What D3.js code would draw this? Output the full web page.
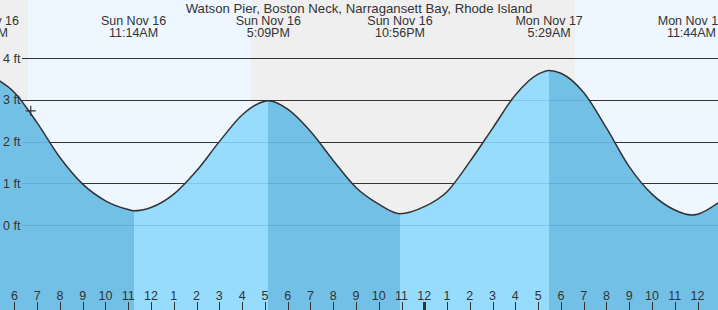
<!DOCTYPE html>
<html>
<head>
<meta charset="utf-8">
<script src="https://cdn.jsdelivr.net/npm/d3@7"></script>
<style>
  body { margin: 0; background: #fff; }
  svg { display: block; font-family: "Liberation Sans", Arial, sans-serif; }
</style>
</head>
<body>
<svg id="chart" width="718" height="310"></svg>
<script>
// tide chart data
var title = "Watson Pier, Boston Neck, Narragansett Bay, Rhode Island";

// high / low tide events
var eventTimes = ["2025-11-16 04:46", "2025-11-16 11:14", "2025-11-16 17:09",
                  "2025-11-16 22:56", "2025-11-17 05:29", "2025-11-17 11:44"];
var eventHeights = [3.59, 0.34, 2.98, 0.27, 3.71, 0.24];

// hourly readings along the tide curve (ft), plus the turning points
var curveTimes = ["2025-11-16 05:00", "2025-11-16 06:00", "2025-11-16 07:00", "2025-11-16 08:00",
                  "2025-11-16 09:00", "2025-11-16 10:00", "2025-11-16 11:00", "2025-11-16 11:14",
                  "2025-11-16 12:00", "2025-11-16 13:00", "2025-11-16 14:00", "2025-11-16 15:00",
                  "2025-11-16 16:00", "2025-11-16 17:00", "2025-11-16 17:09", "2025-11-16 18:00",
                  "2025-11-16 19:00", "2025-11-16 20:00", "2025-11-16 21:00", "2025-11-16 22:00",
                  "2025-11-16 22:56", "2025-11-17 00:00", "2025-11-17 01:00", "2025-11-17 02:00",
                  "2025-11-17 03:00", "2025-11-17 04:00", "2025-11-17 05:00", "2025-11-17 05:29",
                  "2025-11-17 06:00", "2025-11-17 07:00", "2025-11-17 08:00", "2025-11-17 09:00",
                  "2025-11-17 10:00", "2025-11-17 11:00", "2025-11-17 11:44", "2025-11-17 12:00",
                  "2025-11-17 13:00"];
var curveHeights = [3.57, 3.18, 2.45, 1.62,
                    0.98, 0.58, 0.37, 0.34,
                    0.42, 0.74, 1.30, 2.00,
                    2.64, 2.97, 2.98, 2.78,
                    2.25, 1.55, 0.90, 0.50,
                    0.27, 0.44, 0.80, 1.52,
                    2.32, 3.12, 3.62, 3.71,
                    3.64, 3.18, 2.33, 1.40,
                    0.74, 0.36, 0.24, 0.26,
                    0.57];

// sunrise / sunset
var sunTimes = ["2025-11-16 06:36", "2025-11-16 16:23", "2025-11-17 06:37"];

var yTicks = [0, 1, 2, 3, 4];
var viewStart = "2025-11-16 05:22";
var viewEnd = "2025-11-17 12:54";
var nowTime = "2025-11-16 06:43";
var nowHeight = 2.74;

var width = 718, height = 310;
var parse = d3.timeParse("%Y-%m-%d %H:%M");
var t0 = parse(viewStart), t1 = parse(viewEnd);

var x = d3.scaleTime().domain([t0, t1]).range([0, width]);
var y = d3.scaleLinear().domain([0, 4]).range([225, 58.3]);

var svg = d3.select("#chart");

var curve = curveTimes.map(function (t, i) { return { t: parse(t), v: curveHeights[i] }; });
var events = eventTimes.map(function (t, i) { return { t: parse(t), v: eventHeights[i] }; });

// day / night background
var edges = [t0].concat(sunTimes.map(parse), [t1]);
for (var i = 0; i < edges.length - 1; i++) {
  svg.append("rect")
    .attr("x", Math.round(x(edges[i])))
    .attr("y", 0)
    .attr("width", Math.round(x(edges[i + 1])) - Math.round(x(edges[i])))
    .attr("height", height)
    .attr("fill", i % 2 == 0 ? "#efefef" : "#eef7ff");
}

// grid lines
svg.append("g").selectAll("line")
  .data(yTicks)
  .join("line")
  .attr("x1", 22).attr("x2", width)
  .attr("y1", d => Math.round(y(d)) + 0.5).attr("y2", d => Math.round(y(d)) + 0.5)
  .attr("stroke", "#333").attr("stroke-width", 1);

// water
var area = d3.area()
  .x(d => x(d.t))
  .y0(height)
  .y1(d => y(d.v))
  .curve(d3.curveMonotoneX);

var line = d3.line()
  .x(d => x(d.t))
  .y(d => y(d.v))
  .curve(d3.curveMonotoneX);

svg.append("clipPath").attr("id", "water")
  .append("path").attr("d", area(curve));

var wg = svg.append("g").attr("clip-path", "url(#water)");
var bounds = [t0].concat(events.map(d => d.t).filter(t => t > t0 && t < t1), [t1]);
for (var j = 0; j < bounds.length - 1; j++) {
  var mid = new Date((bounds[j].getTime() + bounds[j + 1].getTime()) / 2);
  var prev = events.filter(e => e.t <= bounds[j]).pop() || events[0];
  var next = events.find(e => e.t > mid);
  var falling = next ? next.v < prev.v : true;
  var xa = Math.round(x(bounds[j])), xb = Math.round(x(bounds[j + 1]));
  wg.append("rect")
    .attr("x", xa)
    .attr("y", 0)
    .attr("width", xb - xa)
    .attr("height", height)
    .attr("fill", falling ? "#73c0e6" : "#98dcfd");
}
wg.selectAll("line.wgrid")
  .data(yTicks)
  .join("line")
  .attr("class", "wgrid")
  .attr("x1", 22).attr("x2", width)
  .attr("y1", d => Math.round(y(d)) + 0.5).attr("y2", d => Math.round(y(d)) + 0.5)
  .attr("stroke", "rgba(20,100,160,0.18)").attr("stroke-width", 1);

svg.append("path")
  .attr("d", line(curve))
  .attr("fill", "none")
  .attr("stroke", "#333")
  .attr("stroke-width", 1.5);

// y labels drawn over the water
svg.append("g").selectAll("text")
  .data(yTicks)
  .join("text")
  .attr("x", 3)
  .attr("y", d => y(d) + 4.5)
  .attr("font-size", 12.5)
  .attr("fill", "#333")
  .text(d => d + " ft");

// current time marker
var nx = x(parse(nowTime)), ny = y(nowHeight);
svg.append("path")
  .attr("d", "M" + (nx - 5) + "," + ny + "H" + (nx + 5) + "M" + nx + "," + (ny - 5) + "V" + (ny + 5))
  .attr("stroke", "#333").attr("stroke-width", 1.2);

// title and event labels
svg.append("text")
  .attr("x", width / 2).attr("y", 12.5)
  .attr("text-anchor", "middle")
  .attr("font-size", 13.2).attr("fill", "#333")
  .text(title);

var fmtDay = d3.timeFormat("%a %b %-d");
var fmtTime = d3.timeFormat("%-I:%M%p");
var lab = svg.append("g").selectAll("text")
  .data(events)
  .join("text")
  .attr("text-anchor", "middle")
  .attr("font-size", 12.5).attr("fill", "#333");
lab.append("tspan").attr("x", d => x(d.t)).attr("y", 24.5).text(d => fmtDay(d.t));
lab.append("tspan").attr("x", d => x(d.t)).attr("y", 36.5).text(d => fmtTime(d.t));

// hour axis
var hours = d3.timeHour.every(1).range(t0, t1);
var ax = svg.append("g");
ax.selectAll("line")
  .data(hours)
  .join("line")
  .attr("x1", d => Math.round(x(d)) + 0.5).attr("x2", d => Math.round(x(d)) + 0.5)
  .attr("y1", 302).attr("y2", height)
  .attr("stroke", "#333")
  .attr("stroke-width", d => d.getHours() == 0 ? 3 : 1);
ax.selectAll("text")
  .data(hours)
  .join("text")
  .attr("x", d => x(d))
  .attr("y", 300)
  .attr("text-anchor", "middle")
  .attr("font-size", 12.5).attr("fill", "#333")
  .text(d3.timeFormat("%-I"));
</script>
</body>
</html>
